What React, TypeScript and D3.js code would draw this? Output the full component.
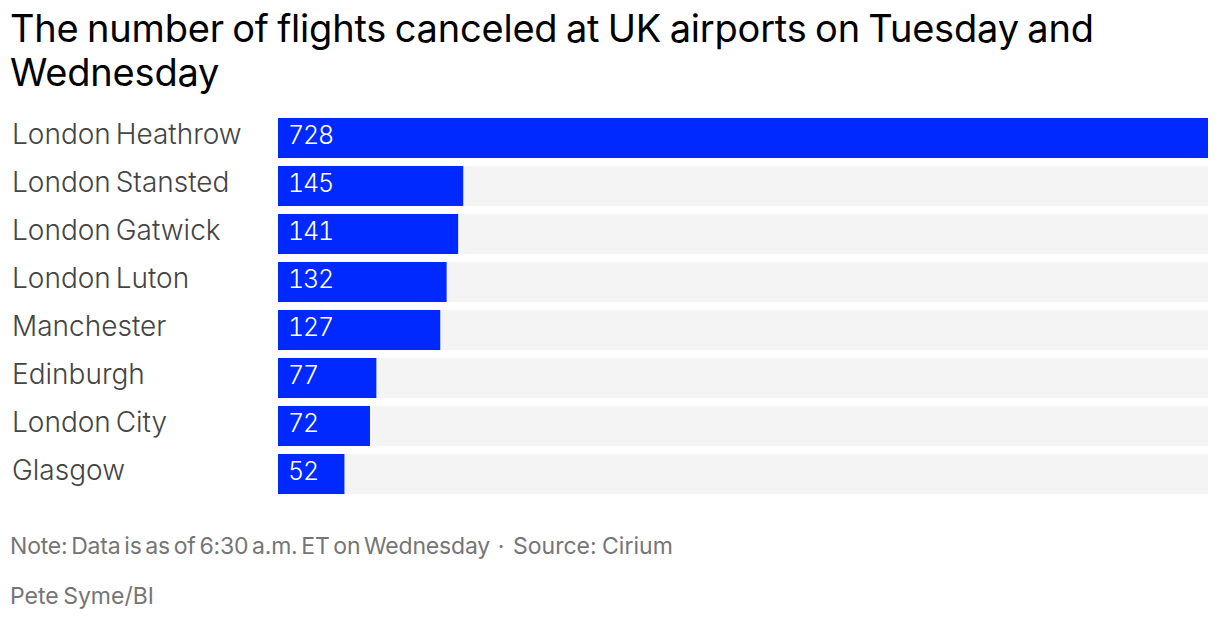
import { useMemo } from "react";
import * as d3 from "d3";

const airports = ["London Heathrow", "London Stansted", "London Gatwick", "London Luton", "Manchester", "Edinburgh", "London City", "Glasgow"];
const cancellations = [728, 145, 141, 132, 127, 77, 72, 52];
const titleLines = ["The number of flights canceled at UK airports on Tuesday and", "Wednesday"];

const WIDTH = 1220;
const HEIGHT = 620;
const FONT = "Inter, 'Noto Sans', sans-serif";

export default function App() {
  const x = useMemo(() => d3.scaleLinear().domain([0, 728]).range([278, 1208]), []);
  const y = useMemo(
    () => d3.scaleBand().domain(airports).range([114, 498]).paddingInner(0.1667).paddingOuter(0.0833),
    [],
  );

  return (
    <svg
      width={WIDTH}
      height={HEIGHT}
      viewBox={`0 0 ${WIDTH} ${HEIGHT}`}
      style={{ position: "absolute", left: 0, top: 0, fontFamily: FONT }}
    >
      <rect width={WIDTH} height={HEIGHT} fill="#fff" />
      {titleLines.map((line, i) => (
        <text key={line} x={10} y={42 + i * 44} fontSize={38} fill="#000" letterSpacing={-0.2} wordSpacing={-2}>
          {line}
        </text>
      ))}
      {airports.map((name, i) => {
        const by = y(name)!;
        const h = y.bandwidth();
        return (
          <g key={name}>
            <text x={12} y={by + 26} fontSize={28} fontWeight={300} fill="#444" wordSpacing={-3}>
              {name}
            </text>
            <rect x={x(0)} y={by} width={x(728) - x(0)} height={h} fill="#f4f4f4" />
            <rect x={x(0)} y={by} width={x(cancellations[i]) - x(0)} height={h} fill="#0029ff" />
            <text
              x={x(0) + 10}
              y={by + 26}
              fontSize={25}
              fontWeight={300}
              fill="#fff"
              letterSpacing={-1.2}
              style={{ fontVariantNumeric: "tabular-nums" }}
            >
              {cancellations[i]}
            </text>
          </g>
        );
      })}
      <text x={10} y={554} fontSize={23} fill="#757575" letterSpacing={-0.2} wordSpacing={-2.5}>
        Note: Data is as of 6:30 a.m. ET on Wednesday
      </text>
      <text x={501} y={554} fontSize={23} fill="#757575" textAnchor="middle">
        {"\u00b7"}
      </text>
      <text x={513} y={554} fontSize={23} fill="#757575" wordSpacing={-1}>
        Source: Cirium
      </text>
      <text x={10} y={604} fontSize={23} fill="#757575" wordSpacing={-2}>
        Pete Syme/BI
      </text>
    </svg>
  );
}
